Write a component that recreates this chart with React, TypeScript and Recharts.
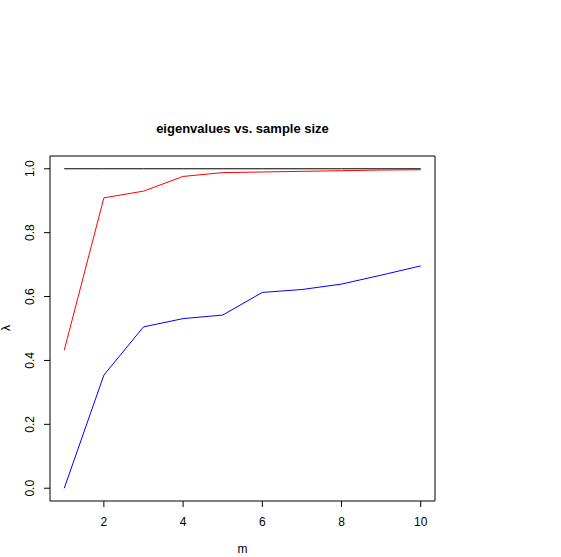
import React from "react";
import { LineChart, Line, XAxis, YAxis, ReferenceArea } from "recharts";

const mValues = [1, 2, 3, 4, 5, 6, 7, 8, 9, 10];
const redSeries = [0.432, 0.909, 0.93, 0.976, 0.988, 0.99, 0.992, 0.994, 0.996, 0.997];
const blueSeries = [0.0, 0.354, 0.505, 0.531, 0.542, 0.613, 0.622, 0.639, 0.667, 0.696];
const blackSeries = [1, 1, 1, 1, 1, 1, 1, 1, 1, 1];
const xTicks = [2, 4, 6, 8, 10];
const yTicks = [0, 0.2, 0.4, 0.6, 0.8, 1.0];

const data = mValues.map((m, i) => ({ m, red: redSeries[i], blue: blueSeries[i], black: blackSeries[i] }));

const FONT = "'Liberation Sans', Arial, Helvetica, sans-serif";

const YTick = (props: any) => {
  const { y, payload } = props;
  return (
    <text x={34} y={y} transform={`rotate(-90, 34, ${y})`} textAnchor="middle" fontSize={12} fontFamily={FONT} fill="#000">
      {Number(payload.value).toFixed(1)}
    </text>
  );
};

const XTick = (props: any) => {
  const { x, payload } = props;
  return (
    <text x={x} y={526} textAnchor="middle" fontSize={12} fontFamily={FONT} fill="#000">
      {payload.value}
    </text>
  );
};

export default function App() {
  return (
    <div style={{ position: "absolute", left: 0, top: 0, width: 561, height: 557, background: "#fff" }}>
      <LineChart width={561} height={557} data={data} margin={{ top: 156, right: 126, bottom: 26, left: 10 }}>
        <XAxis dataKey="m" type="number" domain={[0.64, 10.36]} ticks={xTicks} allowDataOverflow axisLine={false} tickLine={{ stroke: "#000" }} tickSize={6} tick={<XTick />} height={30} interval={0} />
        <YAxis type="number" domain={[-0.04, 1.04]} ticks={yTicks} allowDataOverflow axisLine={false} tickLine={{ stroke: "#000" }} tickSize={6} tick={<YTick />} width={40} interval={0} />
        <ReferenceArea x1={0.64} x2={10.36} y1={-0.04} y2={1.04} stroke="#000" strokeWidth={1} fill="none" fillOpacity={0} ifOverflow="visible" />
        <Line dataKey="black" stroke="#000000" strokeWidth={1} dot={false} isAnimationActive={false} />
        <Line dataKey="red" stroke="#ff0000" strokeWidth={1} dot={false} isAnimationActive={false} />
        <Line dataKey="blue" stroke="#0000ff" strokeWidth={1} dot={false} isAnimationActive={false} />
      </LineChart>
      <div style={{ position: "absolute", left: 50, width: 385, top: 121, textAlign: "center", fontFamily: FONT, fontWeight: "bold", fontSize: 13, lineHeight: "16px" }}>
        eigenvalues vs. sample size
      </div>
      <div style={{ position: "absolute", left: 50, width: 385, top: 542, textAlign: "center", fontFamily: FONT, fontSize: 12, lineHeight: "14px" }}>
        m
      </div>
      <svg style={{ position: "absolute", left: 0, top: 0 }} width={20} height={557}>
        <text x={10} y={328} transform="rotate(-90, 10, 328)" textAnchor="middle" fontSize={12} fontFamily={FONT} fill="#000">λ</text>
      </svg>
    </div>
  );
}
